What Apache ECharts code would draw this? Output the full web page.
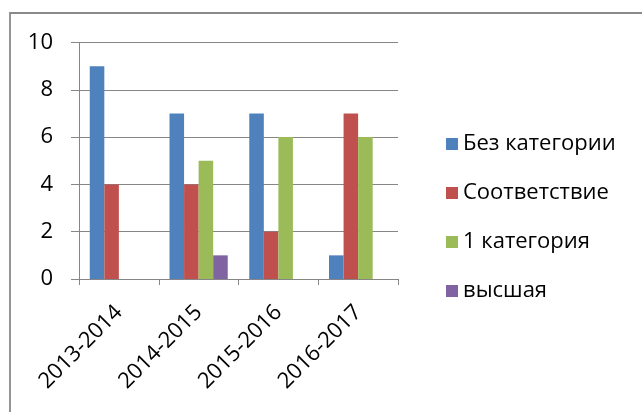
<!DOCTYPE html>
<html>
<head>
<meta charset="utf-8">
<script src="https://cdn.jsdelivr.net/npm/echarts@6/dist/echarts.min.js"></script>
<style>html,body{margin:0;padding:0;background:#fff}#c{width:642px;height:412px}</style>
</head>
<body>
<div id="c"></div>
<script>
const categories = ['2013-2014', '2014-2015', '2015-2016', '2016-2017'];
const seriesNames = ['Без категории', 'Соответствие', '1 категория', 'высшая'];
const bezKategorii = [9, 7, 7, 1];
const sootvetstvie = [4, 4, 2, 7];
const kategoriya1 = [0, 5, 6, 6];
const vysshaya = [0, 1, 0, 0];
const yTicks = [0, 2, 4, 6, 8, 10];

const colors = ['#4F81BD', '#C0504D', '#9BBB59', '#8064A2'];
const values = [bezKategorii, sootvetstvie, kategoriya1, vysshaya];
const FONT = 'Open Sans';

const chart = echarts.init(document.getElementById('c'), null, {renderer: 'canvas'});
chart.setOption({
  animation: false,
  backgroundColor: '#fff',
  textStyle: {fontFamily: FONT, color: '#000'},
  graphic: [{
    type: 'rect', silent: true,
    shape: {x: 10, y: 13, width: 700, height: 500},
    style: {fill: 'none', stroke: '#8a8a8a', lineWidth: 1.8}
  }],
  grid: {left: 79, right: 244, top: 42.5, bottom: 133, containLabel: false},
  legend: {
    orient: 'vertical',
    left: 441, top: 128,
    itemWidth: 12, itemHeight: 12,
    itemGap: 27,
    itemTextGap: 9,
    icon: 'rect',
    textStyle: {fontFamily: FONT, fontSize: 22, color: '#000'},
    data: seriesNames
  },
  xAxis: {
    type: 'category',
    data: categories,
    axisLine: {lineStyle: {color: '#868686', width: 1}},
    axisTick: {show: true, length: 6, lineStyle: {color: '#868686'}},
    axisLabel: {rotate: 45, margin: 30, fontSize: 22, color: '#000', fontFamily: FONT, interval: 0}
  },
  yAxis: {
    type: 'value',
    min: 0, max: 10, interval: 2,
    axisLine: {show: true, lineStyle: {color: '#868686', width: 1}},
    axisTick: {show: true, length: 8, lineStyle: {color: '#868686'}},
    splitLine: {lineStyle: {color: '#868686', width: 1}},
    axisLabel: {margin: 26, fontSize: 22, color: '#000', fontFamily: FONT,
      formatter: v => yTicks.includes(v) ? String(v) : ''}
  },
  series: seriesNames.map((n, i) => ({
    name: n,
    type: 'bar',
    data: values[i],
    barGap: '0%',
    barCategoryGap: '27%',
    itemStyle: {color: colors[i]}
  }))
});
</script>
</body>
</html>
